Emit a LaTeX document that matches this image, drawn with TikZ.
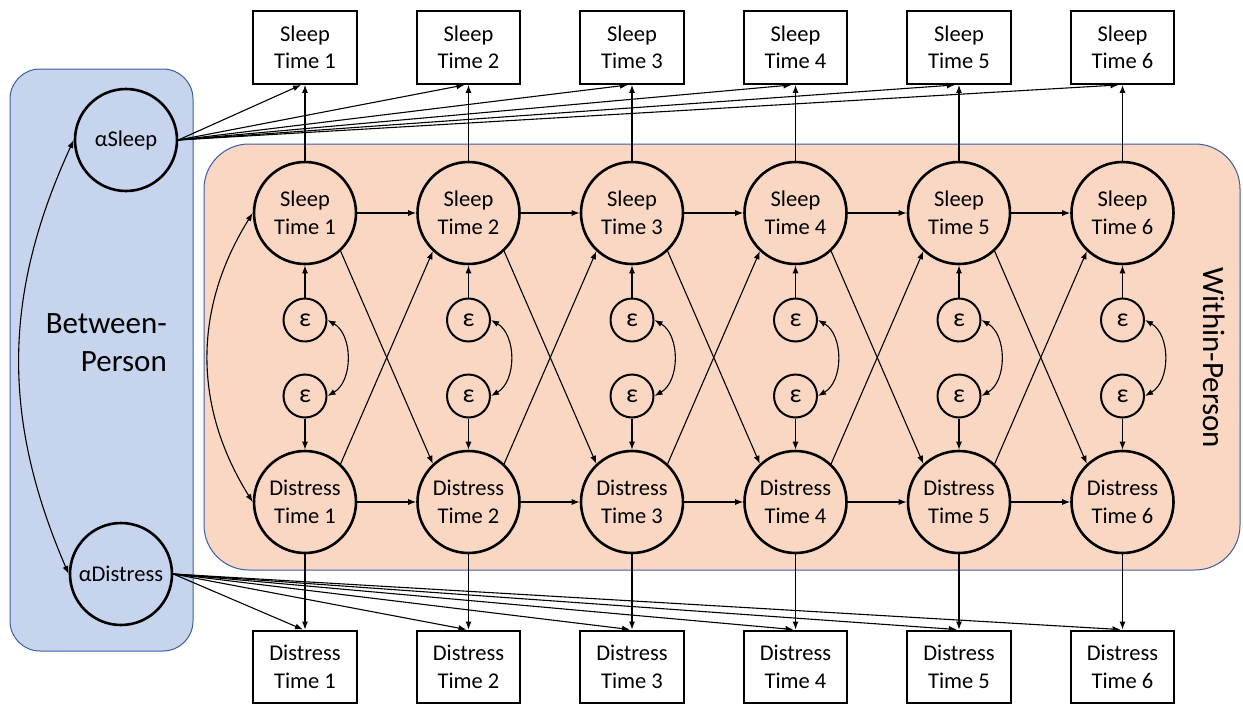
\documentclass[tikz,border=0pt]{standalone}
\usepackage{fontspec}
\setmainfont{Carlito}
\usetikzlibrary{arrows.meta,calc}
\definecolor{bluefill}{HTML}{C7D4EE}
\definecolor{blueline}{HTML}{3A5DA8}
\definecolor{orangefill}{HTML}{F9D7C2}
\begin{document}
\begin{tikzpicture}[x=1pt,y=-1pt,
  lat/.style={circle,draw,line width=2.6pt,minimum size=102pt,inner sep=0pt,align=center,font=\fontsize{22.5}{27.5}\selectfont},
  err/.style={circle,draw,line width=2pt,minimum size=43pt,inner sep=0pt,font=\fontsize{26}{28}\selectfont},
  obs/.style={draw,line width=2.4pt,minimum width=103.5pt,minimum height=72.5pt,inner sep=0pt,align=center,fill=white,font=\fontsize{22.5}{27.5}\selectfont},
  arr/.style={-{Latex[length=8pt,width=6pt]},line width=1.1pt},
  darr/.style={{Latex[length=8pt,width=6pt]}-{Latex[length=8pt,width=6pt]},line width=1.1pt},
  bigtext/.style={inner sep=0pt,font=\fontsize{31}{38}\selectfont}]
\useasboundingbox (0,0) rectangle (1243,707);
\fill[white] (0,0) rectangle (1243,707);
% panels
\filldraw[fill=bluefill,draw=blueline,line width=1pt,rounded corners=30pt] (10,69) rectangle (193,651);
\filldraw[fill=orangefill,draw=blueline,line width=1pt,rounded corners=45pt] (204,144) rectangle (1240,570);
\node[bigtext,anchor=east,align=right] (bp) at (167,343) {Between-\\Person};
\node[bigtext,rotate=-90] (wp) at (1214,358) {Within-Person};
% between-person latent
\node[lat] (as) at (126,140) {αSleep};
\node[lat] (ad) at (121,574) {αDistress};
\draw[darr] (as.west) to[bend right=24] (ad.west);
% columns
\foreach \i in {1,...,6}{
  \pgfmathsetmacro{\xx}{305+163.5*(\i-1)}
  \node[lat] (s\i) at (\xx,213) {Sleep\\Time \i};
  \node[lat] (d\i) at (\xx,502) {Distress\\Time \i};
  \node[err] (es\i) at (\xx,320) {ε};
  \node[err] (ed\i) at (\xx,396) {ε};
  \node[obs] (os\i) at (\xx,47.5) {Sleep\\Time \i};
  \node[obs] (od\i) at (\xx,667) {Distress\\Time \i};
}
\foreach \i in {1,...,6}{
  \draw[arr] (s\i) -- (os\i);
  \draw[arr] (d\i) -- (od\i);
  \draw[arr] (es\i) -- (s\i);
  \draw[arr] (ed\i) -- (d\i);
  \draw[darr] (es\i.east) to[bend left=60] (ed\i.east);
  \draw[arr] (as.east) -- ($(os\i.south)+(-4,0)$);
  \draw[arr] (ad.east) -- ($(od\i.north)+(-2,0)$);
}
\foreach \i [evaluate=\i as \j using int(\i+1)] in {1,...,5}{
  \draw[arr] (s\i) -- (s\j);
  \draw[arr] (d\i) -- (d\j);
  \draw[arr] (s\i.-47) -- (d\j.133);
  \draw[arr] (d\i.47) -- (s\j.227);
}
\draw[darr] (s1.west) to[bend right=32] (d1.west);
\end{tikzpicture}
\end{document}
